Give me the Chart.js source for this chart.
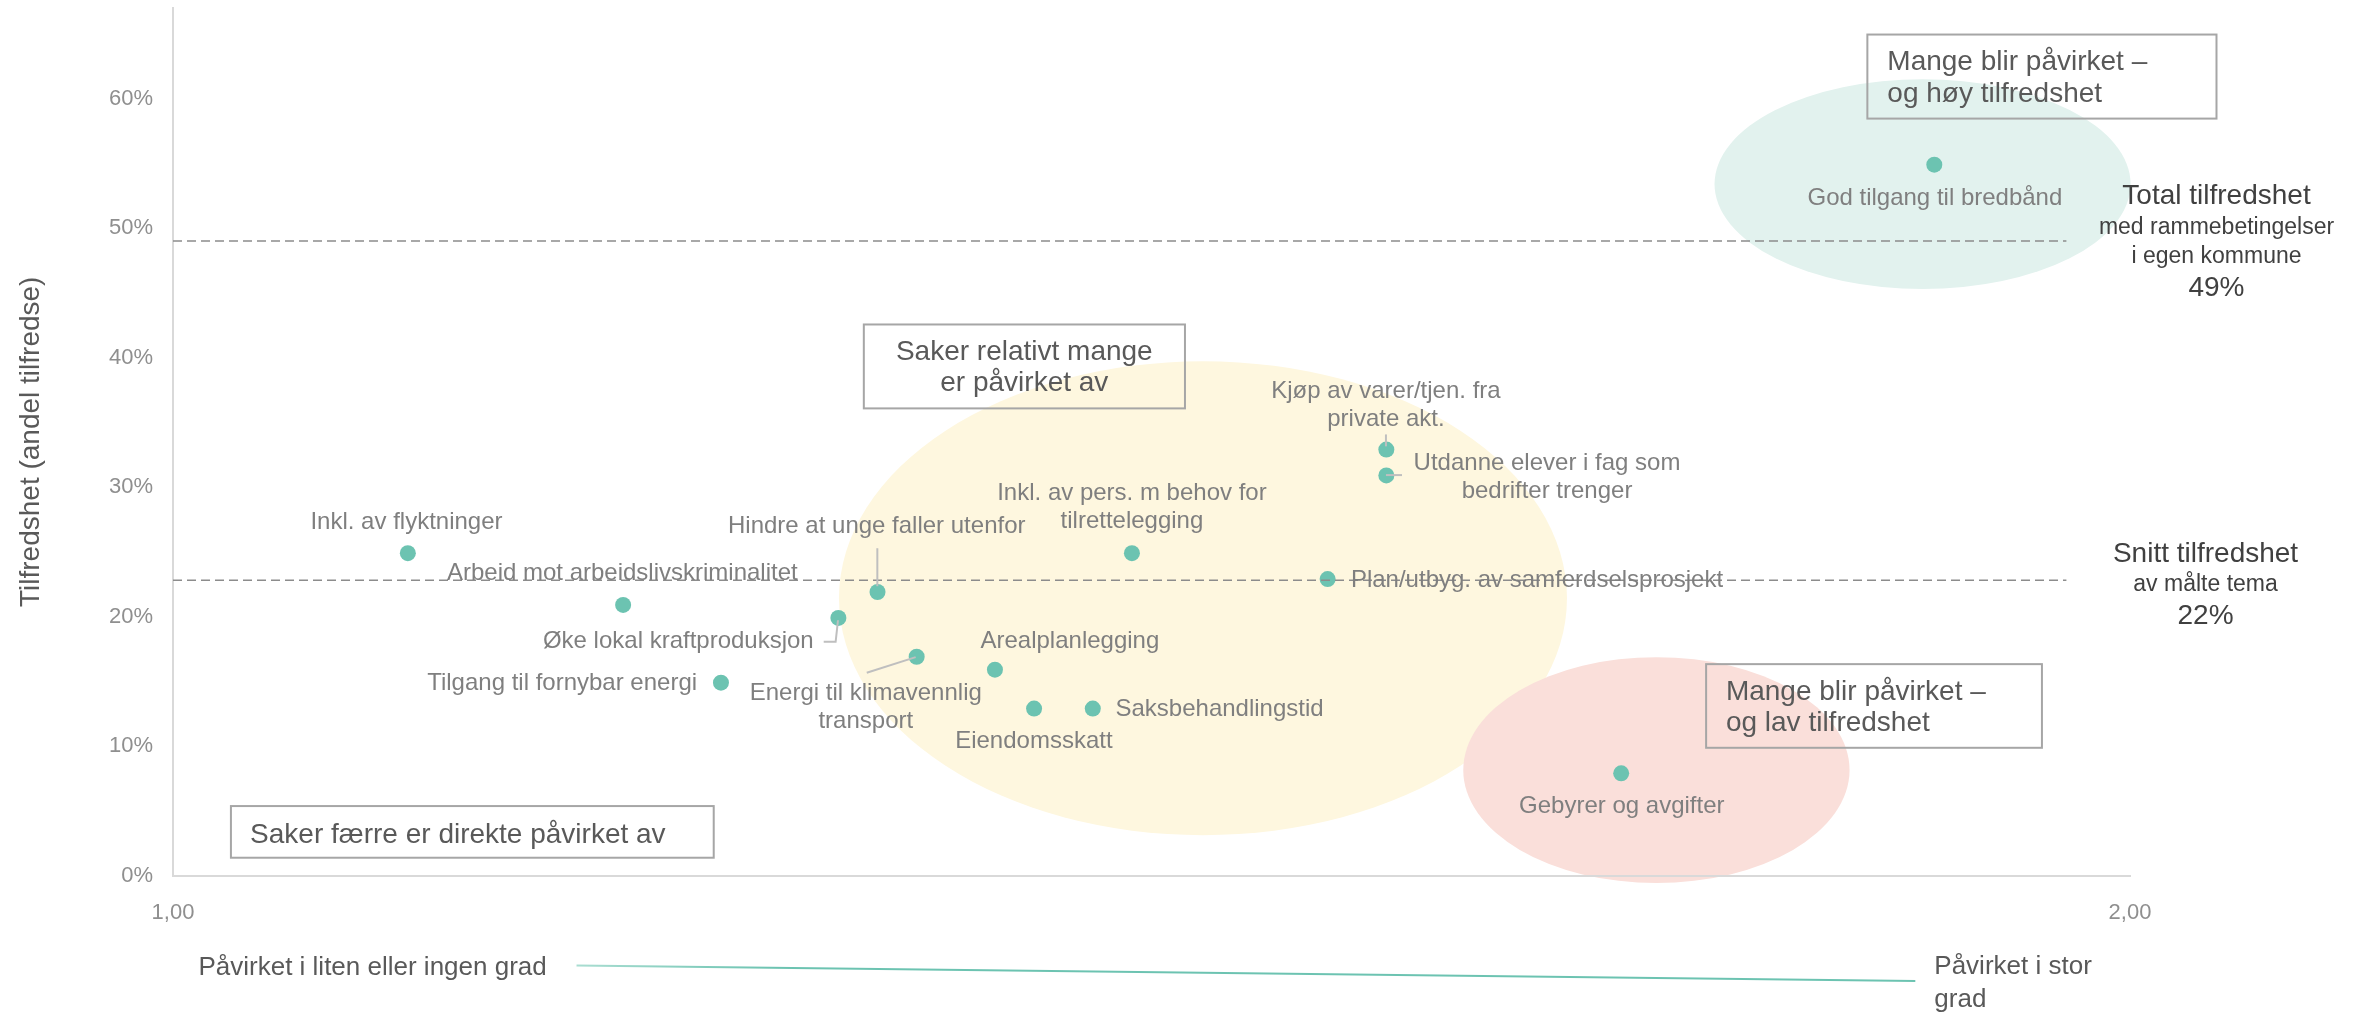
<!DOCTYPE html>
<html><head><meta charset="utf-8">
<script src="https://cdn.jsdelivr.net/npm/chart.js@4/dist/chart.umd.min.js"></script>
<style>html,body{margin:0;padding:0;background:#fff}#wrap{width:2367px;height:1013px;position:relative}</style>
</head><body><div id="wrap"><canvas id="c"></canvas></div>
<script>
// ---------- data ----------
const categories = [
  'Inkl. av flyktninger',
  'Arbeid mot arbeidslivskriminalitet',
  'Øke lokal kraftproduksjon',
  'Hindre at unge faller utenfor',
  'Tilgang til fornybar energi',
  'Energi til klimavennlig\ntransport',
  'Arealplanlegging',
  'Eiendomsskatt',
  'Saksbehandlingstid',
  'Inkl. av pers. m behov for\ntilrettelegging',
  'Plan/utbyg. av samferdselsprosjekt',
  'Kjøp av varer/tjen. fra\nprivate akt.',
  'Utdanne elever i fag som\nbedrifter trenger',
  'Gebyrer og avgifter',
  'God tilgang til bredbånd'
];
const impact = [1.120, 1.230, 1.340, 1.360, 1.280, 1.380, 1.420, 1.440, 1.470, 1.490, 1.590, 1.620, 1.620, 1.740, 1.900];
const satisfaction = [0.249, 0.209, 0.199, 0.219, 0.149, 0.169, 0.159, 0.129, 0.129, 0.249, 0.229, 0.329, 0.309, 0.079, 0.549];
const totalSatisfaction = 0.49;
const averageSatisfaction = 0.228;
const xTickValues = [1, 2];
const yTickValues = [0, 0.1, 0.2, 0.3, 0.4, 0.5, 0.6];
const yAxisTitle = 'Tilfredshet (andel tilfredse)';
const lowImpactText = 'Påvirket i liten eller ingen grad';
const highImpactText = 'Påvirket i stor\ngrad';
const totalText = ['Total tilfredshet', 'med rammebetingelser', 'i egen kommune', '49%'];
const averageText = ['Snitt tilfredshet', 'av målte tema', '22%'];
const boxTexts = [
  'Mange blir påvirket –\nog høy tilfredshet',
  'Saker relativt mange\ner påvirket av',
  'Mange blir påvirket –\nog lav tilfredshet',
  'Saker færre er direkte påvirket av'
];

// ---------- annotation placement (data units) ----------
const labelPlacement = [
  {x:1.1193, y:0.2731, align:'center'},
  {x:1.2296, y:0.2333, align:'center'},
  {x:1.3274, y:0.1805, align:'right'},
  {x:1.3596, y:0.2698, align:'center'},
  {x:1.2678, y:0.1484, align:'right'},
  {x:1.3540, y:0.1407, align:'center'},
  {x:1.4583, y:0.1805, align:'center'},
  {x:1.4399, y:0.1039, align:'center'},
  {x:1.4816, y:0.1285, align:'left'},
  {x:1.4900, y:0.2950, align:'center'},
  {x:1.6019, y:0.2281, align:'left'},
  {x:1.6198, y:0.3742, align:'center'},
  {x:1.7021, y:0.3186, align:'center'},
  {x:1.7403, y:0.0532, align:'center'},
  {x:1.9003, y:0.5228, align:'center'}
];
const leaderLines = [
  [[1.3599,0.2528],[1.3599,0.2235]],
  [[1.3398,0.1972],[1.3386,0.1805],[1.3325,0.1805]],
  [[1.3795,0.1687],[1.3545,0.1566]],
  [[1.6198,0.3407],[1.6198,0.3315]],
  [[1.6198,0.3093],[1.6280,0.3093]]
];
const ellipses = [
  {cx:1.894, cy:0.534, rx:0.1063, ry:0.081, color:'#e2f2ee'},
  {cx:1.5263, cy:0.2142, rx:0.186, ry:0.183, color:'#fef7df'},
  {cx:1.758, cy:0.0815, rx:0.0987, ry:0.0872, color:'#fadfda'}
];
const boxes = [
  {x1:1.8658, x2:2.0442, y1:0.6495, y2:0.5846, tx:1.8760, ty:0.6278, align:'left'},
  {x1:1.3530, x2:1.5171, y1:0.4256, y2:0.3608, tx:1.4350, ty:0.4042, align:'center'},
  {x1:1.7834, x2:1.9550, y1:0.1633, y2:0.0987, tx:1.7935, ty:0.1419, align:'left'},
  {x1:1.0296, x2:1.2763, y1:0.0537, y2:0.0138, tx:1.0394, ty:0.0313, align:'left'}
];
const totalTextPos = {x:2.0442, y:[0.5244, 0.5005, 0.4781, 0.4538]};
const averageTextPos = {x:2.0386, y:[0.2481, 0.2245, 0.2003]};
const lowImpactPos = {x:1.0130, y:-0.0712};
const highImpactPos = {x:1.9000, y:-0.0703};
const impactArrow = [[1.2062,-0.0695],[1.8903,-0.0813]];
const refLineX = [1.0, 1.9675];

// ---------- drawing ----------
const FONT = "'Liberation Sans', Arial, sans-serif";
const annotations = {
  id: 'annotations',
  beforeDraw(chart) {
    const {ctx, scales:{x, y}} = chart;
    ctx.save();
    ellipses.forEach(e => {
      const cx = x.getPixelForValue(e.cx), cy = y.getPixelForValue(e.cy);
      const rx = Math.abs(x.getPixelForValue(e.cx + e.rx) - cx);
      const ry = Math.abs(y.getPixelForValue(e.cy + e.ry) - cy);
      ctx.beginPath();
      ctx.ellipse(cx, cy, rx, ry, 0, 0, Math.PI * 2);
      ctx.fillStyle = e.color;
      ctx.fill();
    });
    ctx.restore();
  },
  afterDatasetsDraw(chart) {
    const {ctx, scales:{x, y}} = chart;
    const px = v => x.getPixelForValue(v), py = v => y.getPixelForValue(v);
    ctx.save();
    ctx.strokeStyle = '#bfbfbf'; ctx.lineWidth = 2;
    leaderLines.forEach(pts => {
      ctx.beginPath();
      pts.forEach((p, i) => i ? ctx.lineTo(px(p[0]), py(p[1])) : ctx.moveTo(px(p[0]), py(p[1])));
      ctx.stroke();
    });
    ctx.font = '24px ' + FONT; ctx.fillStyle = '#7f7f7f'; ctx.textBaseline = 'middle';
    categories.forEach((name, i) => {
      const p = labelPlacement[i];
      ctx.textAlign = p.align;
      name.split('\n').forEach((line, k) => ctx.fillText(line, px(p.x), py(p.y) + k * 28));
    });
    boxes.forEach((b, i) => {
      ctx.strokeStyle = '#a6a6a6'; ctx.lineWidth = 2;
      ctx.strokeRect(px(b.x1), py(b.y1), px(b.x2) - px(b.x1), py(b.y2) - py(b.y1));
      ctx.font = '28px ' + FONT; ctx.fillStyle = '#595959'; ctx.textAlign = b.align;
      boxTexts[i].split('\n').forEach((line, k) => ctx.fillText(line, px(b.tx), py(b.ty) + k * 31.5));
    });
    ctx.fillStyle = '#404040'; ctx.textAlign = 'center';
    totalText.forEach((t, k) => {
      ctx.font = (k === 0 || k === 3 ? '28px ' : '23px ') + FONT;
      ctx.fillText(t, px(totalTextPos.x), py(totalTextPos.y[k]));
    });
    averageText.forEach((t, k) => {
      ctx.font = (k === 0 || k === 2 ? '28px ' : '23px ') + FONT;
      ctx.fillText(t, px(averageTextPos.x), py(averageTextPos.y[k]));
    });
    ctx.font = '26px ' + FONT; ctx.fillStyle = '#595959'; ctx.textAlign = 'left';
    ctx.fillText(lowImpactText, px(lowImpactPos.x), py(lowImpactPos.y));
    highImpactText.split('\n').forEach((t, k) => ctx.fillText(t, px(highImpactPos.x), py(highImpactPos.y) + k * 33));
    const x0 = px(impactArrow[0][0]), y0 = py(impactArrow[0][1]);
    const x1 = px(impactArrow[1][0]), y1 = py(impactArrow[1][1]);
    const g = ctx.createLinearGradient(x0, 0, x1, 0);
    g.addColorStop(0, '#a9ddd1'); g.addColorStop(0.15, '#6cc3b1'); g.addColorStop(1, '#6cc3b1');
    ctx.strokeStyle = g; ctx.lineWidth = 2;
    ctx.beginPath(); ctx.moveTo(x0, y0); ctx.lineTo(x1, y1); ctx.stroke();
    ctx.restore();
  }
};

new Chart(document.getElementById('c'), {
  type: 'scatter',
  data: {
    datasets: [
      {
        data: impact.map((v, i) => ({x: v, y: satisfaction[i]})),
        backgroundColor: '#6cc3b1', borderWidth: 0, pointRadius: 8, pointHoverRadius: 8, order: 1
      },
      {
        type: 'line', data: refLineX.map(v => ({x: v, y: totalSatisfaction})),
        borderColor: '#8c8c8c', borderWidth: 1.5, borderDash: [9, 5], pointRadius: 0, fill: false, clip: false, order: 0
      },
      {
        type: 'line', data: refLineX.map(v => ({x: v, y: averageSatisfaction})),
        borderColor: '#8c8c8c', borderWidth: 1.5, borderDash: [9, 5], pointRadius: 0, fill: false, clip: false, order: 0
      }
    ]
  },
  options: {
    responsive: true, maintainAspectRatio: false, animation: false,
    layout: {padding: {left: 0, top: 8, right: 237, bottom: 0}},
    plugins: {legend: {display: false}, tooltip: {enabled: false}},
    scales: {
      x: {
        type: 'linear', min: 1, max: 2,
        grid: {display: false, drawTicks: false},
        border: {display: true, color: '#d9d9d9', width: 2},
        ticks: {
          padding: 24, color: '#8f8f8f', font: {size: 22, family: FONT},
          callback: v => v.toFixed(2).replace('.', ',')
        },
        afterBuildTicks: s => { s.ticks = xTickValues.map(v => ({value: v})); },
        afterFit: s => { s.height = 137.4; s.paddingLeft = 0; s.paddingRight = 0; }
      },
      y: {
        type: 'linear', min: 0, max: 0.67,
        grid: {display: false, drawTicks: false},
        border: {display: true, color: '#d9d9d9', width: 2},
        ticks: {
          padding: 20, color: '#8f8f8f', font: {size: 22, family: FONT},
          callback: v => Math.round(v * 100) + '%'
        },
        afterBuildTicks: s => { s.ticks = yTickValues.map(v => ({value: v})); },
        afterFit: s => { s.width = 173; s.paddingTop = 0; s.paddingBottom = 0; },
        title: {display: true, text: yAxisTitle, color: '#595959', font: {size: 28, family: FONT}, padding: {top: 14, bottom: 0}}
      }
    }
  },
  plugins: [annotations]
});
</script></body></html>
